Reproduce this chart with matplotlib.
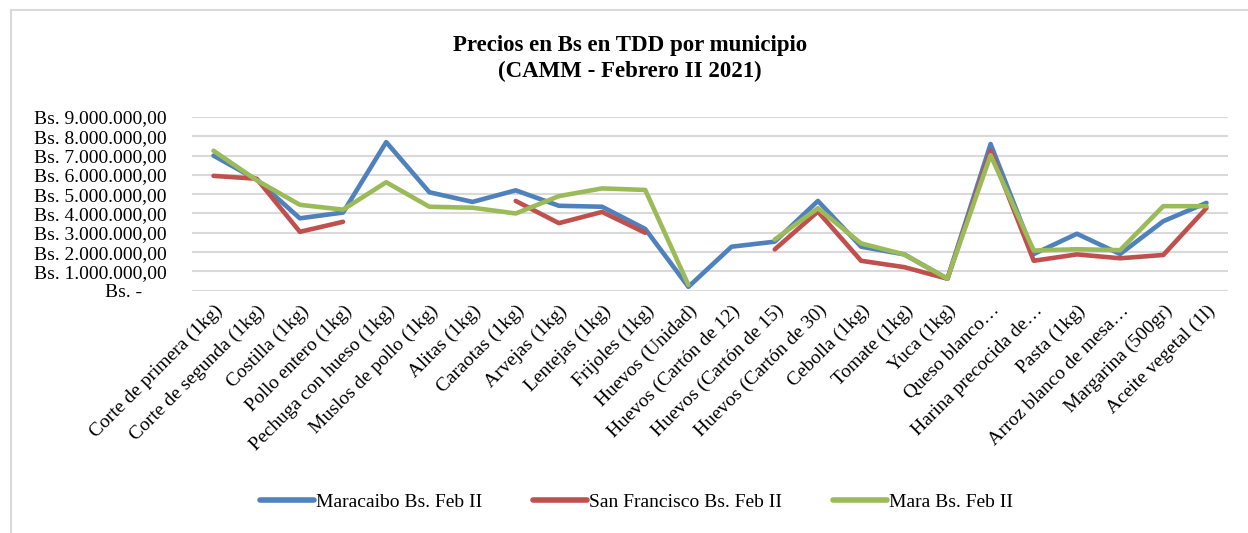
import numpy as np
import matplotlib
matplotlib.use("Agg")
import matplotlib.pyplot as plt
from matplotlib.ticker import FuncFormatter
from matplotlib.lines import Line2D

nan = np.nan

categories = [
    "Corte de primera (1kg)", "Corte de segunda (1kg)", "Costilla (1kg)",
    "Pollo entero (1kg)", "Pechuga con hueso (1kg)", "Muslos de pollo (1kg)",
    "Alitas (1kg)", "Caraotas (1kg)", "Arvejas (1kg)", "Lentejas (1kg)",
    "Frijoles (1kg)", "Huevos (Unidad)", "Huevos (Cartón de 12)",
    "Huevos (Cartón de 15)", "Huevos (Cartón de 30)", "Cebolla (1kg)",
    "Tomate (1kg)", "Yuca (1kg)", "Queso blanco…", "Harina precocida de…",
    "Pasta (1kg)", "Arroz blanco de mesa…", "Margarina (500gr)",
    "Aceite vegetal (1l)",
]

# values in millions of Bs.
maracaibo = [7.0, 5.75, 3.75, 4.05, 7.7, 5.1, 4.6, 5.2, 4.4, 4.35, 3.2, 0.2,
             2.28, 2.54, 4.65, 2.28, 1.88, 0.62, 7.6, 1.9, 2.95, 1.9, 3.6, 4.55]
san_francisco = [5.95, 5.8, 3.05, 3.57, nan, nan, nan, 4.65, 3.5, 4.08, 3.0, nan,
                 nan, 2.14, 4.1, 1.55, 1.22, 0.62, 7.25, 1.55, 1.88, 1.68, 1.85, 4.28]
mara = [7.25, 5.72, 4.45, 4.2, 5.62, 4.35, 4.3, 4.0, 4.9, 5.3, 5.22, 0.3,
        nan, 2.65, 4.27, 2.45, 1.88, 0.62, 7.02, 2.08, 2.15, 2.1, 4.38, 4.38]

series_names = ["Maracaibo Bs. Feb II", "San Francisco Bs. Feb II", "Mara Bs. Feb II"]
colors = ["#4F81BD", "#C0504D", "#9BBB59"]

plt.rcParams['font.family'] = ['Liberation Serif', 'DejaVu Serif']

fig = plt.figure(figsize=(12.48, 5.33), dpi=100)
ax = fig.add_axes([0.1538, 0.4546, 0.8302, 0.3259])

x = np.arange(len(categories))
for vals, name, col in zip([maracaibo, san_francisco, mara], series_names, colors):
    y = np.array(vals) * 1e6
    ax.plot(x, y, color=col, lw=3.3, label=name,
            solid_joinstyle='round', solid_capstyle='round', zorder=3)

ax.set_xlim(-0.5, len(categories) - 0.5)
ax.set_ylim(0, 9e6)
ax.set_yticks(np.arange(0, 9.5e6, 1e6))


def bs_fmt(v, pos):
    if v == 0:
        return "Bs. -     "
    s = "{:,.2f}".format(v).replace(",", "X").replace(".", ",").replace("X", ".")
    return "Bs. " + s


ax.yaxis.set_major_formatter(FuncFormatter(bs_fmt))
ax.grid(axis='y', color='#d9d9d9', lw=1.5, zorder=0)
for s in ax.spines.values():
    s.set_visible(False)
ax.tick_params(axis='both', length=0, labelsize=14)
ax.tick_params(axis='y', pad=18)
ax.set_xticks(x)
ax.set_xticklabels(categories, rotation=45, ha='right', rotation_mode='anchor')
ax.tick_params(axis='x', pad=8)

fig.text(0.505, 0.89, "Precios en Bs en TDD por municipio\n(CAMM - Febrero II 2021)",
         ha='center', va='center', fontsize=16.5, fontweight='bold', linespacing=1.3)

handles = [Line2D([0], [0], color=c, lw=4, solid_capstyle='round') for c in colors]
fig.legend(handles, series_names, loc='center', bbox_to_anchor=(0.51, 0.058),
           ncol=3, frameon=False, fontsize=14, handlelength=2.8,
           handletextpad=0.1, columnspacing=2.6)

# chart border (top and left visible)
fig.add_artist(Line2D([11 / 1248, 11 / 1248], [0, 1 - 10 / 533],
                      transform=fig.transFigure, color='#d9d9d9', lw=1.5))
fig.add_artist(Line2D([11 / 1248, 1], [1 - 10 / 533, 1 - 10 / 533],
                      transform=fig.transFigure, color='#d9d9d9', lw=1.5))

fig.savefig("out.png", dpi=100)
